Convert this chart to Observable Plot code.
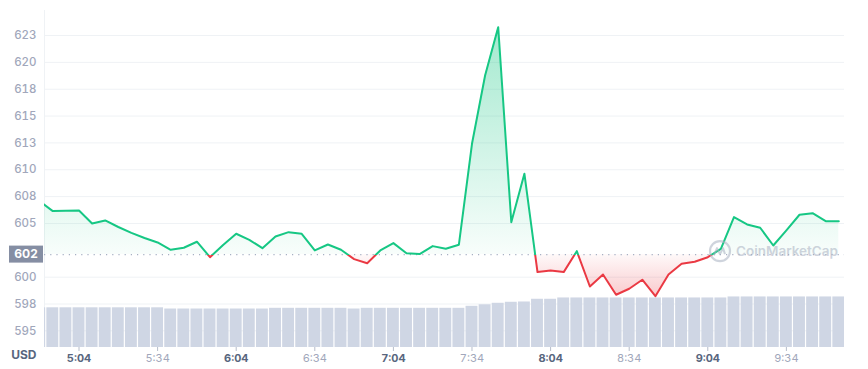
<!DOCTYPE html>
<html><head><meta charset="utf-8">
<script src="https://cdn.jsdelivr.net/npm/d3@7"></script>
<script src="https://cdn.jsdelivr.net/npm/@observablehq/plot@0.6"></script>
<style>body{margin:0;background:#fff;} svg{display:block;}</style>
</head><body><div id="chart"></div>
<script>
// 5-minute samples
const times = ["4:49","4:54","4:59","5:04","5:09","5:14","5:19","5:24","5:29","5:34","5:39","5:44","5:49","5:54","5:59",
  "6:04","6:09","6:14","6:19","6:24","6:29","6:34","6:39","6:44","6:49","6:54","6:59",
  "7:04","7:09","7:14","7:19","7:24","7:29","7:34","7:39","7:44","7:49","7:54","7:59",
  "8:04","8:09","8:14","8:19","8:24","8:29","8:34","8:39","8:44","8:49","8:54","8:59",
  "9:04","9:09","9:14","9:19","9:24","9:29","9:34","9:39","9:44","9:49","9:54"];
const prices = [607.05,606.15,606.18,606.2,605.0,605.28,604.67,604.12,603.65,603.23,602.55,602.74,603.3,601.86,603.0,
  604.04,603.48,602.7,603.79,604.19,604.04,602.49,603.04,602.55,601.68,601.3,602.49,
  603.17,602.23,602.15,602.89,602.64,603.02,612.42,618.78,623.28,605.12,609.63,600.47,
  600.62,600.47,602.42,599.13,600.25,598.36,598.92,599.76,598.23,600.25,601.25,601.43,
  601.86,602.64,605.59,604.91,604.6,602.95,604.35,605.81,605.96,605.21,605.21];
const volumes = [39.5,39.5,39.5,39.5,39.5,39.5,39.5,39.5,39.5,39.5,38.3,38.3,38.3,38.3,38.3,
  38.3,38.3,38.3,39,39,39,39,39,39,38.3,39,39,
  39,39,39,39,39,39,41,42.5,44,45,45.3,48,
  48,49.3,49.3,49.3,49.3,49.3,49.3,49.3,49.3,49.3,49.3,49.3,
  49.3,49.3,50.3,50.3,50.3,50.3,50.3,50.3,50.3,50.3,50.3];
const baselinePrice = 602.1;
const yTicks = [595,597.5,600,605,607.5,610,612.5,615,617.5,620,622.5];
const hourTicks = ["5:04","6:04","7:04","8:04","9:04"];
const halfTicks = ["5:34","6:34","7:34","8:34","9:34"];
const priceLabel = "602";
const currency = "USD";

const toDate = s => { const [h,m] = s.split(":").map(Number); return new Date(Date.UTC(2021,4,10,h,m)); };
const data = times.map((t,i) => ({t: toDate(t), price: prices[i], vol: volumes[i]}));

const W = 868, H = 369, mL = 44, mR = 24, mT = 10, mB = 22;
const MIN = 60000;
const xDomain = [new Date(+toDate("4:54") - 3.17*MIN), new Date(+toDate("9:54") + 2.18*MIN)];
const yDomain = [593.45, 624.83];
const volMax = d3.max(volumes);
const volBand = (yDomain[1]-yDomain[0]) * 0.15;
const half = 2.5*MIN;
const fmt = d3.utcFormat("%-H:%M");

const plot = Plot.plot({
  width: W, height: H,
  marginLeft: mL, marginRight: mR, marginTop: mT, marginBottom: mB,
  x: {type: "utc", domain: xDomain, axis: null},
  y: {domain: yDomain, axis: null},
  style: {fontFamily: "Inter, 'Noto Sans', sans-serif", background: "#fff"},
  marks: [
    Plot.gridY(yTicks, {stroke: "#eff2f5", strokeOpacity: 1}),
    Plot.ruleX([xDomain[0]], {stroke: "#eff2f5"}),
    Plot.rectY(data, {x1: d => new Date(+d.t - half), x2: d => new Date(+d.t + half),
      y1: yDomain[0], y2: d => yDomain[0] + d.vol / volMax * volBand,
      fill: "#cfd6e4", insetLeft: 0.6, insetRight: 0.6, clip: true}),
    Plot.areaY(data, {x: "t", y1: baselinePrice, y2: "price", fill: "url(#cmcArea)", clip: true}),
    Plot.ruleY([baselinePrice], {stroke: "#a6b0c3", strokeDasharray: "1.2,5", strokeWidth: 1.3}),
    Plot.lineY(data, {x: "t", y: "price", stroke: "url(#cmcLine)", strokeWidth: 2, clip: true}),
    Plot.axisY(yTicks, {tickSize: 0, tickPadding: 8, tickFormat: d => String(Math.round(d)),
      fill: "#a1a7bb", fontSize: 11.5, fontWeight: 500, label: null}),
    Plot.axisX(hourTicks.map(toDate), {tickSize: 4, tickPadding: 3, tickFormat: fmt,
      stroke: "#b7bdca", fill: "#58667e", fontWeight: "bold", fontSize: 11, label: null}),
    Plot.axisX(halfTicks.map(toDate), {tickSize: 4, tickPadding: 3, tickFormat: fmt,
      stroke: "#b7bdca", fill: "#a1a7bb", fontSize: 11, label: null}),
    Plot.text([currency], {frameAnchor: "bottom-left", dx: -8, dy: 11, textAnchor: "end",
      fontWeight: "bold", fill: "#58667e", fontSize: 12})
  ]
});

const ns = "http://www.w3.org/2000/svg";
const ys = plot.scale("y");
const yb = ys.apply(baselinePrice);
const gTop = mT, gBot = H - mB;
const off = (yb - gTop) / (gBot - gTop);
const defs = document.createElementNS(ns, "defs");
defs.innerHTML = `
<linearGradient id="cmcLine" gradientUnits="userSpaceOnUse" x1="0" y1="${gTop}" x2="0" y2="${gBot}">
 <stop offset="0" stop-color="#16c784"/><stop offset="${off}" stop-color="#16c784"/>
 <stop offset="${off}" stop-color="#ea3943"/><stop offset="1" stop-color="#ea3943"/>
</linearGradient>
<linearGradient id="cmcArea" gradientUnits="userSpaceOnUse" x1="0" y1="${gTop}" x2="0" y2="${gBot}">
 <stop offset="0" stop-color="#16c784" stop-opacity="0.42"/><stop offset="${off}" stop-color="#16c784" stop-opacity="0.03"/>
 <stop offset="${off}" stop-color="#ea3943" stop-opacity="0.03"/><stop offset="1" stop-color="#ea3943" stop-opacity="0.55"/>
</linearGradient>`;
plot.insertBefore(defs, plot.firstChild);

// current price marker
const pm = document.createElementNS(ns, "g");
pm.innerHTML = `<rect x="9" y="${yb - 8.5}" width="34" height="17" fill="#858ea3"/>
<text x="26" y="${yb}" dy="0.36em" text-anchor="middle" fill="#fff" font-size="12" font-weight="bold" font-family="Inter, sans-serif">${priceLabel}</text>`;
plot.appendChild(pm);

// watermark
const wm = document.createElementNS(ns, "g");
const wx = W - mR - 124, wy = yb - 3;
wm.setAttribute("opacity", "0.55");
wm.innerHTML = `<circle cx="${wx}" cy="${wy}" r="10" fill="none" stroke="#a9b2c2" stroke-width="2.2"/>
<path d="M${wx-6},${wy+4} L${wx-3},${wy-3} L${wx},${wy+3} L${wx+3},${wy-3} L${wx+5},${wy+3}" fill="none" stroke="#a9b2c2" stroke-width="2" stroke-linejoin="round"/>
<text x="${wx+16}" y="${wy}" dy="0.36em" text-anchor="start" fill="#a9b2c2" font-size="13.5" font-weight="600" font-family="Inter, sans-serif">CoinMarketCap</text>`;
plot.appendChild(wm);

document.getElementById("chart").appendChild(plot);
</script>
</body></html>
